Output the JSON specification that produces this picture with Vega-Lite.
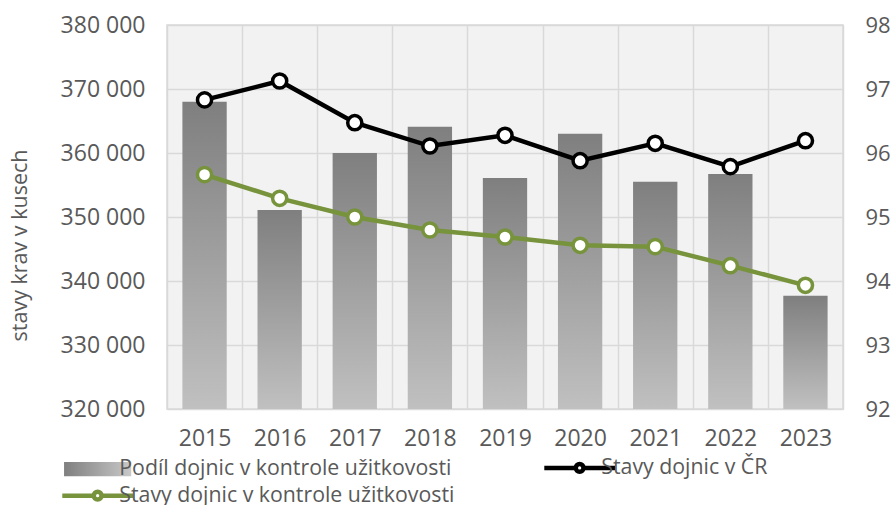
{
  "$schema": "https://vega.github.io/schema/vega-lite/v6.json",
  "width": 676,
  "height": 384,
  "autosize": "none",
  "padding": {"left": 167, "top": 25, "right": 53, "bottom": 96},
  "background": "#ffffff",
  "datasets": {
    "bars": [
      {"year": "2015", "value": 96.80},
      {"year": "2016", "value": 95.11},
      {"year": "2017", "value": 96.00},
      {"year": "2018", "value": 96.41},
      {"year": "2019", "value": 95.61},
      {"year": "2020", "value": 96.30},
      {"year": "2021", "value": 95.55},
      {"year": "2022", "value": 95.67},
      {"year": "2023", "value": 93.77}
    ],
    "lines": [
      {"year": "2015", "series": "Stavy dojnic v ČR", "value": 368300},
      {"year": "2016", "series": "Stavy dojnic v ČR", "value": 371250},
      {"year": "2017", "series": "Stavy dojnic v ČR", "value": 364740},
      {"year": "2018", "series": "Stavy dojnic v ČR", "value": 361090},
      {"year": "2019", "series": "Stavy dojnic v ČR", "value": 362760},
      {"year": "2020", "series": "Stavy dojnic v ČR", "value": 358800},
      {"year": "2021", "series": "Stavy dojnic v ČR", "value": 361510},
      {"year": "2022", "series": "Stavy dojnic v ČR", "value": 357870},
      {"year": "2023", "series": "Stavy dojnic v ČR", "value": 361930},
      {"year": "2015", "series": "Stavy dojnic v kontrole užitkovosti", "value": 356620},
      {"year": "2016", "series": "Stavy dojnic v kontrole užitkovosti", "value": 352920},
      {"year": "2017", "series": "Stavy dojnic v kontrole užitkovosti", "value": 350000},
      {"year": "2018", "series": "Stavy dojnic v kontrole užitkovosti", "value": 347970},
      {"year": "2019", "series": "Stavy dojnic v kontrole užitkovosti", "value": 346880},
      {"year": "2020", "series": "Stavy dojnic v kontrole užitkovosti", "value": 345570},
      {"year": "2021", "series": "Stavy dojnic v kontrole užitkovosti", "value": 345370},
      {"year": "2022", "series": "Stavy dojnic v kontrole užitkovosti", "value": 342400},
      {"year": "2023", "series": "Stavy dojnic v kontrole užitkovosti", "value": 339320}
    ]
  },
  "layer": [
    {
      "data": {"name": "bars"},
      "mark": {
        "type": "bar",
        "width": {"band": 0.59},
        "color": {
          "gradient": "linear",
          "x1": 0, "y1": 0, "x2": 0, "y2": 1,
          "stops": [
            {"offset": 0, "color": "#7f7f7f"},
            {"offset": 1, "color": "#c0c0c0"}
          ]
        }
      },
      "encoding": {
        "x": {
          "field": "year",
          "type": "ordinal",
          "scale": {"paddingInner": 0, "paddingOuter": 0},
          "axis": {
            "title": null,
            "labelAngle": 0,
            "labelPadding": 18,
            "labelFontSize": 23,
            "grid": true,
            "tickBand": "extent"
          }
        },
        "y": {
          "field": "value",
          "type": "quantitative",
          "scale": {"domain": [92, 98], "zero": false, "nice": false},
          "axis": {
            "orient": "right",
            "title": null,
            "values": [92, 93, 94, 95, 96, 97, 98],
            "grid": false,
            "labelPadding": 22
          }
        },
        "y2": {"datum": 92}
      }
    },
    {
      "data": {"name": "lines"},
      "layer": [
        {
          "mark": {"type": "line", "strokeWidth": 4.5},
          "encoding": {
            "x": {"field": "year", "type": "ordinal"},
            "y": {
              "field": "value",
              "type": "quantitative",
              "scale": {"domain": [320000, 380000], "zero": false, "nice": false},
              "axis": {
                "orient": "left",
                "title": "stavy krav v kusech",
                "values": [320000, 330000, 340000, 350000, 360000, 370000, 380000],
                "labelExpr": "replace(format(datum.value, ','), ',', ' ')",
                "grid": true,
                "labelPadding": 22,
                "labelFontSize": 23,
                "titleFontSize": 21.5,
                "titleAngle": -90,
                "titleAlign": "center",
                "titleBaseline": "middle",
                "titleX": -147,
                "titleY": 220
              }
            },
            "stroke": {
              "field": "series",
              "type": "nominal",
              "scale": {
                "domain": ["Podíl dojnic v kontrole užitkovosti", "Stavy dojnic v kontrole užitkovosti", "Stavy dojnic v ČR"],
                "range": ["#a6a6a6", "#77933c", "#000000"]
              },
              "legend": {
                "title": null,
                "orient": "none",
                "legendX": -77,
                "legendY": 432,
                "columns": 2,
                "columnPadding": 80,
                "rowPadding": 1,
                "symbolSize": 5000,
                "symbolOffset": -3,
                "labelOffset": 11,
                "labelLimit": 600,
                "labelFont": "Open Sans",
                "labelFontSize": 21.3,
                "labelColor": "#595959",
                "encode": {
                  "symbols": {
                    "update": {
                      "shape": {"signal": "datum.value == 'Podíl dojnic v kontrole užitkovosti' ? 'M-0.95,-0.2H0.95V0.2H-0.95Z' : 'M-1,0H-0.11M0.11,0A0.11,0.11 0 1,1 -0.11,0A0.11,0.11 0 1,1 0.11,0M0.11,0H1'"},
                      "fill": {"signal": "datum.value == 'Podíl dojnic v kontrole užitkovosti' ? {gradient: 'linear', x1: 0, y1: 0, x2: 1, y2: 0, stops: [{offset: 0, color: '#7f7f7f'}, {offset: 1, color: '#c8c8c8'}]} : '#ffffff'"},
                      "strokeWidth": {"signal": "datum.value == 'Podíl dojnic v kontrole užitkovosti' ? 0 : 4.5"},
                      "opacity": {"value": 1}
                    }
                  }
                }
              }
            }
          }
        },
        {
          "mark": {"type": "point", "size": 200, "strokeWidth": 3.5, "fill": "#ffffff", "filled": false, "opacity": 1},
          "encoding": {
            "x": {"field": "year", "type": "ordinal"},
            "y": {"field": "value", "type": "quantitative"},
            "stroke": {
              "field": "series",
              "type": "nominal",
              "scale": {
                "domain": ["Podíl dojnic v kontrole užitkovosti", "Stavy dojnic v kontrole užitkovosti", "Stavy dojnic v ČR"],
                "range": ["#a6a6a6", "#77933c", "#000000"]
              }
            }
          }
        }
      ]
    }
  ],
  "resolve": {"scale": {"y": "independent"}},
  "config": {
    "view": {"fill": "#f2f2f2", "stroke": "#d9d9d9", "strokeWidth": 1.5},
    "axis": {
      "labelFont": "Open Sans",
      "labelFontSize": 22,
      "labelColor": "#595959",
      "ticks": false,
      "domain": false,
      "gridColor": "#d9d9d9",
      "gridWidth": 1.5,
      "titleFont": "Open Sans",
      "titleColor": "#595959",
      "titleFontWeight": "normal"
    }
  }
}
